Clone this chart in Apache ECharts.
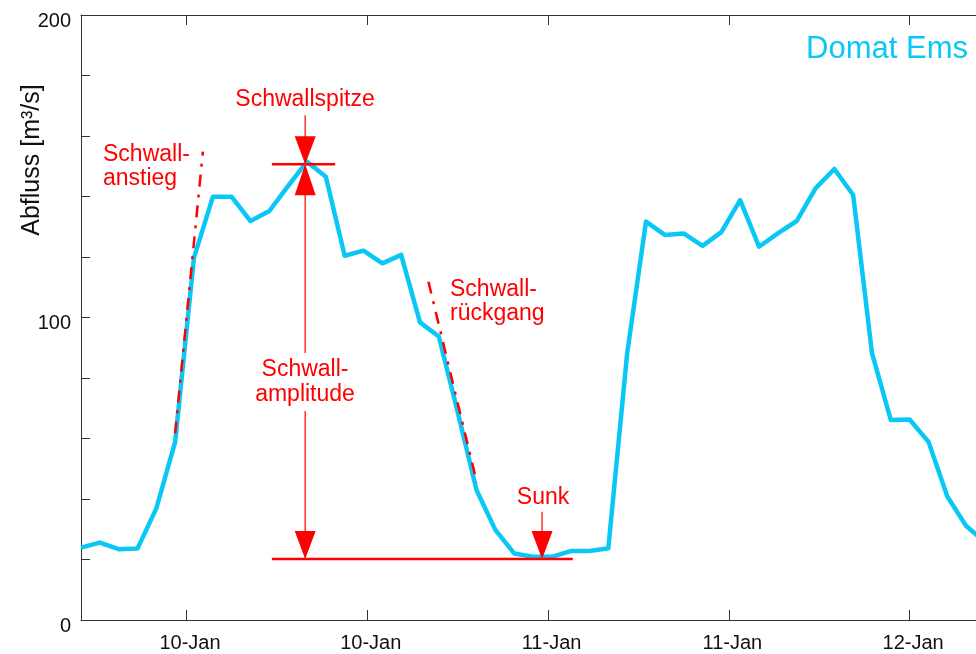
<!DOCTYPE html>
<html>
<head>
<meta charset="utf-8">
<script src="https://cdn.jsdelivr.net/npm/echarts@6/dist/echarts.min.js"></script>
<style>
  html, body { margin: 0; padding: 0; overflow: hidden; background: #fff; }
  #chart { width: 1000px; height: 654px; }
</style>
</head>
<body>
<div id="chart"></div>
<script>
// Abfluss Domat Ems, x in hours since 10-Jan 00:00
var startHour = -7;
var stepHours = 1.25;
var flow = [23.9, 25.6, 23.4, 23.6, 36.9, 58.9, 119.8, 139.9, 139.9, 131.9,
            135.2, 143.5, 151.5, 146.5, 120.4, 122.1, 117.9, 120.7, 98.4, 93.7,
            68.8, 43.0, 29.8, 22.0, 20.9, 20.9, 22.8, 22.8, 23.7, 88.2,
            131.7, 127.3, 127.8, 123.7, 128.2, 138.8, 123.4, 127.8, 131.9, 142.7,
            149.1, 140.5, 88.2, 66.1, 66.3, 58.9, 40.8, 31.1, 25.8];

var tickHours = [0, 12, 24, 36, 48];
var tickLabels = ['10-Jan', '10-Jan', '11-Jan', '11-Jan', '12-Jan'];

// annotation anchors (hours, m3/s)
var peakMark = [7.88, 150.7];
var sunkMark = [23.6, 20.2];
var peakBar = [5.67, 9.87];
var baseBar = [5.67, 25.64];
var peakStemTop = 166.9;
var sunkStemTop = 35.8;
var riseTangent = [[-0.75, 61.7], [1.09, 154.8]];
var fallTangent = [[16.06, 111.8], [19.27, 45.5]];

var blue = '#0AC8F5';
var red = '#ff0000';
var axisColor = '#333';
var redFont = 'normal 23px "Liberation Sans", Arial, sans-serif';

var flowData = flow.map(function (v, i) { return [startHour + i * stepHours, v]; });

var myChart = echarts.init(document.getElementById('chart'));

function segment(name, pts, width, color, type) {
  return {
    name: name, type: 'line', data: pts, symbol: 'none', silent: true, z: 5,
    lineStyle: { width: width, color: color, type: type || 'solid' }
  };
}

var option = {
  animation: false,
  textStyle: { fontFamily: '"Liberation Sans", Arial, sans-serif' },
  grid: { left: 81, right: 15, top: 15, bottom: 34 },
  xAxis: [
    {
      type: 'value', min: -7, max: 53, position: 'bottom',
      axisLine: { show: true, onZero: false, lineStyle: { color: axisColor, width: 1 } },
      axisTick: { show: true, inside: true, length: 10, customValues: tickHours, lineStyle: { color: axisColor } },
      axisLabel: {
        customValues: tickHours, fontSize: 20, color: '#111', margin: 13, padding: [0, 0, 0, 7],
        formatter: function (v) { return tickLabels[tickHours.indexOf(v)] || ''; }
      },
      splitLine: { show: false }
    },
    {
      type: 'value', min: -7, max: 53, position: 'top',
      axisLine: { show: true, onZero: false, lineStyle: { color: axisColor, width: 1 } },
      axisTick: { show: true, inside: true, length: 10, customValues: tickHours, lineStyle: { color: axisColor } },
      axisLabel: { show: false },
      splitLine: { show: false }
    }
  ],
  yAxis: [
    {
      type: 'value', min: 0, max: 200, interval: 20,
      axisLine: { show: true, onZero: false, lineStyle: { color: axisColor, width: 1 } },
      axisTick: { show: true, inside: true, length: 9, lineStyle: { color: axisColor } },
      axisLabel: {
        fontSize: 20, color: '#111', margin: 10, verticalAlign: 'top', lineHeight: 12,
        formatter: function (v) { return v % 100 === 0 ? String(v) : ''; }
      },
      splitLine: { show: false }
    },
    {
      type: 'value', min: 0, max: 200, interval: 100, position: 'right',
      axisLine: { show: true, onZero: false, lineStyle: { color: axisColor, width: 1 } },
      axisTick: { show: true, inside: true, length: 9, lineStyle: { color: axisColor } },
      axisLabel: { show: false },
      splitLine: { show: false }
    }
  ],
  series: [
    {
      name: 'Domat Ems', type: 'line', data: flowData, symbol: 'none', z: 3,
      lineStyle: { width: 4.5, color: blue, join: 'round' }
    },
    segment('anstieg', riseTangent, 2.5, red, [12, 8, 3, 8]),
    segment('rueckgang', fallTangent, 2.5, red, [12, 8, 3, 8]),
    segment('spitze', [[peakBar[0], peakMark[1]], [peakBar[1], peakMark[1]]], 2.5, red),
    segment('basis', [[baseBar[0], sunkMark[1]], [baseBar[1], sunkMark[1]]], 2.5, red),
    segment('spitzeStem', [[peakMark[0], peakStemTop], [peakMark[0], peakMark[1]]], 1.5, '#ff3030'),
    segment('amplitude', [[peakMark[0], peakMark[1]], [peakMark[0], sunkMark[1]]], 1.5, '#ff3030'),
    segment('sunkStem', [[sunkMark[0], sunkStemTop], [sunkMark[0], sunkMark[1]]], 1.5, '#ff3030'),
    {
      name: 'arrows', type: 'scatter', silent: true, z: 6,
      itemStyle: { color: red, opacity: 1 },
      symbol: 'triangle',
      data: [
        { value: peakMark, symbolSize: [21, 28], symbolRotate: 180, symbolOffset: [0, -14] },
        { value: peakMark, symbolSize: [21, 31], symbolRotate: 0, symbolOffset: [0, 15.5] },
        { value: [peakMark[0], sunkMark[1]], symbolSize: [21, 28], symbolRotate: 180, symbolOffset: [0, -14] },
        { value: sunkMark, symbolSize: [21, 28], symbolRotate: 180, symbolOffset: [0, -14] }
      ]
    }
  ],
  graphic: [
    {
      type: 'text', x: 32, y: 160, rotation: Math.PI / 2, z: 100,
      style: { text: 'Abfluss [m³/s]', fill: '#111', font: 'normal 25px "Liberation Sans", Arial, sans-serif', align: 'center', verticalAlign: 'middle' }
    },
    {
      type: 'text', x: 968, y: 49, z: 100,
      style: { text: 'Domat Ems', fill: blue, font: 'normal 31px "Liberation Sans", Arial, sans-serif', align: 'right', verticalAlign: 'middle' }
    },
    {
      type: 'text', x: 305, y: 100, z: 100,
      style: { text: 'Schwallspitze', fill: red, font: redFont, align: 'center', verticalAlign: 'middle' }
    },
    {
      type: 'text', x: 103, y: 167, z: 100,
      style: { text: 'Schwall-\nanstieg', fill: red, font: redFont, lineHeight: 24, align: 'left', verticalAlign: 'middle' }
    },
    {
      type: 'text', x: 450, y: 302, z: 100,
      style: { text: 'Schwall-\nrückgang', fill: red, font: redFont, lineHeight: 24, align: 'left', verticalAlign: 'middle' }
    },
    {
      type: 'text', x: 305, y: 382, z: 100,
      style: {
        text: 'Schwall-\namplitude', fill: red, font: redFont, lineHeight: 25, align: 'center', verticalAlign: 'middle',
        backgroundColor: '#fff', padding: [3, 2, 5, 2]
      }
    },
    {
      type: 'text', x: 543, y: 498, z: 100,
      style: { text: 'Sunk', fill: red, font: redFont, align: 'center', verticalAlign: 'middle' }
    }
  ]
};

myChart.setOption(option);
</script>
</body>
</html>
